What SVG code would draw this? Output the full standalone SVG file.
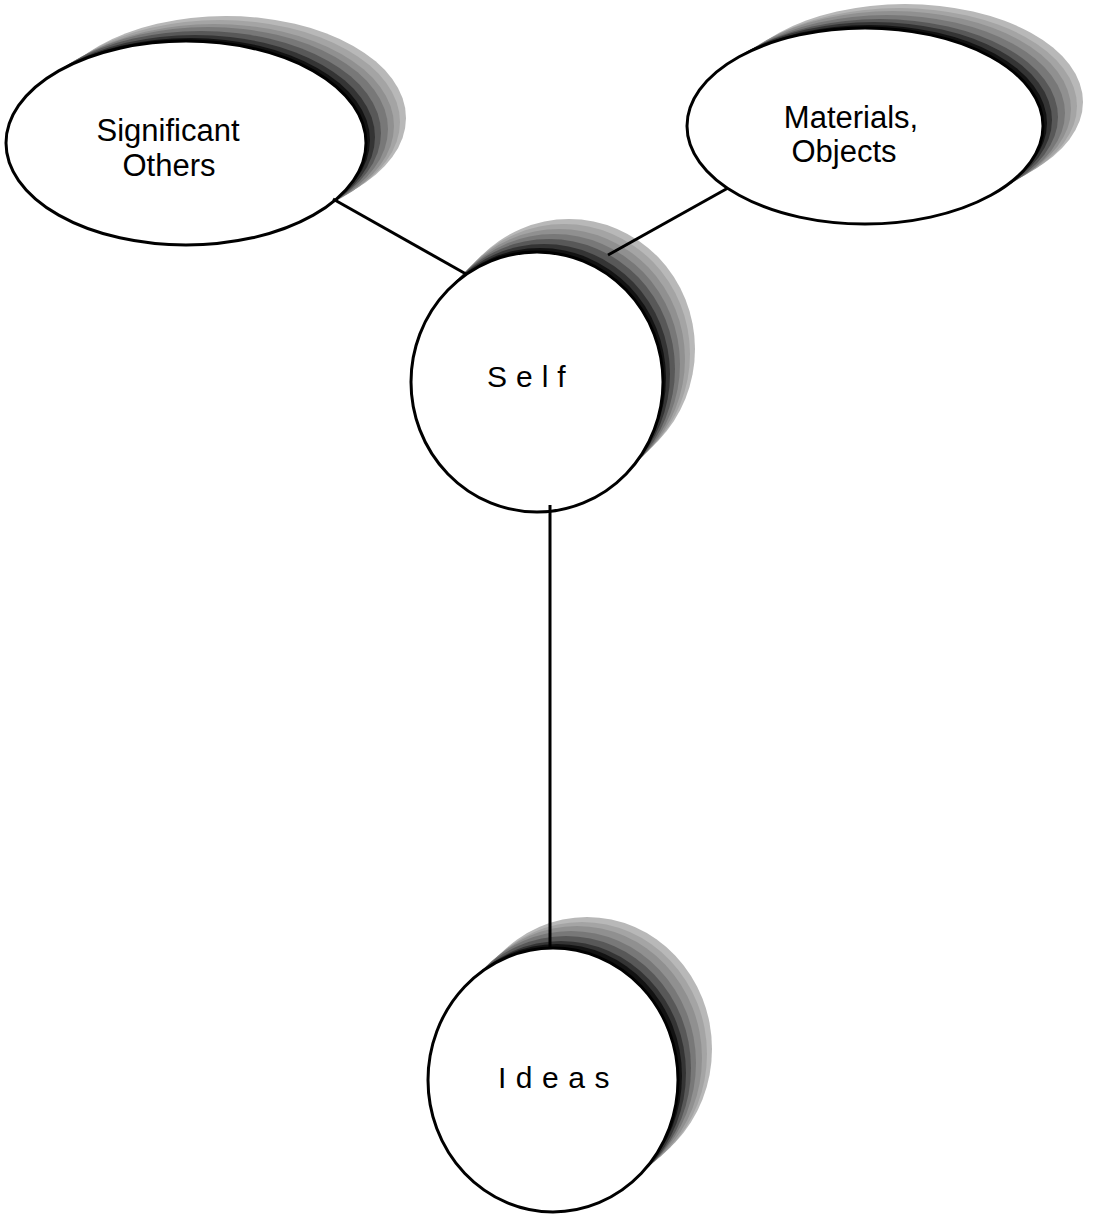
<svg xmlns="http://www.w3.org/2000/svg" width="1099" height="1217" viewBox="0 0 1099 1217">
<style>
.node{fill:#ffffff;stroke:#000000;stroke-width:3}
.s1{fill:#b8b8b8}.s2{fill:#a4a4a4}.s3{fill:#909090}.s4{fill:#787878}.s5{fill:#585858}.s6{fill:#343434}.s7{fill:#121212}
.lbl{font-family:"Liberation Sans",Arial,sans-serif;font-size:31px;fill:#000000}
.sp{font-family:"Liberation Sans",Arial,sans-serif;font-size:30px;fill:#000000}
.conn{stroke:#000000;stroke-width:3;fill:none}
</style>
<rect width="1099" height="1217" fill="#ffffff"/>
<g id="node-significant-others">
<ellipse class="s1" cx="226" cy="118" rx="180" ry="102"/>
<ellipse class="s2" cx="220" cy="122" rx="180" ry="102"/>
<ellipse class="s3" cx="214" cy="126" rx="180" ry="102"/>
<ellipse class="s4" cx="208" cy="129" rx="180" ry="102"/>
<ellipse class="s5" cx="201" cy="133" rx="180" ry="102"/>
<ellipse class="s6" cx="195" cy="137" rx="180" ry="102"/>
<ellipse class="s7" cx="190" cy="140" rx="180" ry="102"/>
<ellipse class="node" cx="186" cy="143" rx="180" ry="102"/>
<text class="lbl" x="168" y="141" text-anchor="middle">Significant</text>
<text class="lbl" x="169" y="176" text-anchor="middle">Others</text>
</g>
<g id="node-materials-objects">
<ellipse class="s1" cx="905" cy="102" rx="178" ry="98"/>
<ellipse class="s2" cx="899" cy="106" rx="178" ry="98"/>
<ellipse class="s3" cx="893" cy="109" rx="178" ry="98"/>
<ellipse class="s4" cx="887" cy="113" rx="178" ry="98"/>
<ellipse class="s5" cx="880" cy="117" rx="178" ry="98"/>
<ellipse class="s6" cx="874" cy="120" rx="178" ry="98"/>
<ellipse class="s7" cx="869" cy="123" rx="178" ry="98"/>
<ellipse class="node" cx="865" cy="126" rx="178" ry="98"/>
<text class="lbl" x="851" y="128" text-anchor="middle">Materials,</text>
<text class="lbl" x="844" y="162" text-anchor="middle">Objects</text>
</g>
<g id="node-self">
<ellipse class="s1" cx="569" cy="349" rx="126" ry="130"/>
<ellipse class="s2" cx="564" cy="354" rx="126" ry="130"/>
<ellipse class="s3" cx="559" cy="359" rx="126" ry="130"/>
<ellipse class="s4" cx="554" cy="364" rx="126" ry="130"/>
<ellipse class="s5" cx="549" cy="369" rx="126" ry="130"/>
<ellipse class="s6" cx="544" cy="374" rx="126" ry="130"/>
<ellipse class="s7" cx="540" cy="378" rx="126" ry="130"/>
<ellipse class="node" cx="537" cy="382" rx="126" ry="130"/>
<text class="sp" x="487" y="387" letter-spacing="9">Self</text>
</g>
<g id="node-ideas">
<ellipse class="s1" cx="587" cy="1049" rx="125" ry="132"/>
<ellipse class="s2" cx="582" cy="1054" rx="125" ry="132"/>
<ellipse class="s3" cx="577" cy="1058" rx="125" ry="132"/>
<ellipse class="s4" cx="571" cy="1063" rx="125" ry="132"/>
<ellipse class="s5" cx="566" cy="1068" rx="125" ry="132"/>
<ellipse class="s6" cx="561" cy="1073" rx="125" ry="132"/>
<ellipse class="s7" cx="557" cy="1076" rx="125" ry="132"/>
<ellipse class="node" cx="553" cy="1080" rx="125" ry="132"/>
<text class="sp" x="498" y="1088" letter-spacing="9.5">Ideas</text>
</g>
<g id="connectors">
<line class="conn" x1="333" y1="199" x2="466" y2="274"/>
<line class="conn" x1="728" y1="188" x2="608" y2="255"/>
<line class="conn" x1="550" y1="505" x2="550" y2="948"/>
</g>
</svg>
